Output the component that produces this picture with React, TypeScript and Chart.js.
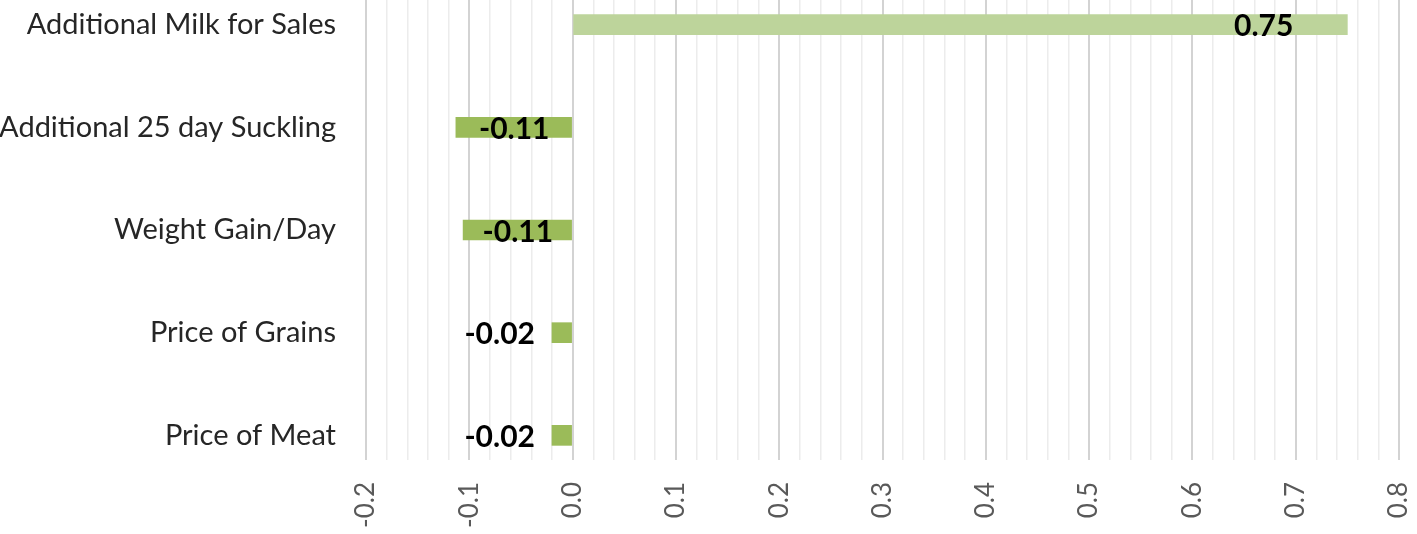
import React, { useEffect, useRef } from "react";
import { Chart, registerables } from "chart.js";

Chart.register(...registerables);

const categories = [
  "Additional Milk for Sales",
  "Additional 25 day Suckling",
  "Weight Gain/Day",
  "Price of Grains",
  "Price of Meat",
];
const values = [0.75, -0.113, -0.106, -0.02, -0.02];
const barColors = ["#bdd49b", "#9bbb59", "#9bbb59", "#9bbb59", "#9bbb59"];
const xMin = -0.2;
const xMax = 0.8;

const FONT = "Lato, 'Open Sans', sans-serif";

const isMajor = (v: number) => Math.abs(v * 10 - Math.round(v * 10)) < 1e-6;

const barLabelPlugin = {
  id: "barLabels",
  afterDatasetsDraw(chart: any) {
    const { ctx } = chart;
    const meta = chart.getDatasetMeta(0);
    const zeroX = chart.scales.x.getPixelForValue(0);
    ctx.save();
    ctx.font = `bold 30px ${FONT}`;
    ctx.fillStyle = "#000000";
    ctx.textBaseline = "middle";
    meta.data.forEach((bar: any, i: number) => {
      const v = values[i];
      const text = v.toFixed(2);
      const w = ctx.measureText(text).width;
      const len = Math.abs(bar.x - zeroX);
      const y = bar.y + 2;
      if (v > 0) {
        ctx.textAlign = "right";
        ctx.fillText(text, bar.x - 54, y);
      } else if (len > w + 20) {
        ctx.textAlign = "center";
        ctx.fillText(text, (bar.x + zeroX) / 2, y);
      } else {
        ctx.textAlign = "right";
        ctx.fillText(text, bar.x - 17, y);
      }
    });
    ctx.restore();
  },
};

export default function App() {
  const canvasRef = useRef<HTMLCanvasElement | null>(null);

  useEffect(() => {
    if (!canvasRef.current) return;
    const chart = new Chart(canvasRef.current, {
      type: "bar",
      data: {
        datasets: [
          {
            data: values.map((v, i) => ({ x: v, y: i })),
            backgroundColor: barColors,
            borderWidth: 0,
            barThickness: 20,
          },
        ],
      },
      options: {
        indexAxis: "y",
        animation: false,
        responsive: true,
        maintainAspectRatio: false,
        layout: { padding: { top: 0, right: 18, left: 0, bottom: 0 } },
        plugins: {
          legend: { display: false },
          tooltip: { enabled: false },
        },
        scales: {
          x: {
            type: "linear",
            min: xMin,
            max: xMax,
            offset: false,
            afterBuildTicks: (scale: any) => {
              const t = [];
              for (let i = 0; i <= 50; i++) t.push({ value: (i - 10) / 50 });
              scale.ticks = t;
            },
            afterFit: (scale: any) => {
              scale.height = 74;
              scale.paddingLeft = 0;
              scale.paddingRight = 0;
              scale.paddingTop = 0;
              scale.paddingBottom = 0;
            },
            ticks: {
              autoSkip: false,
              minRotation: 90,
              maxRotation: 90,
              padding: 22,
              color: "#595959",
              font: { family: FONT, size: 26 },
              callback: (v: any) => {
                const n = Number(v);
                return isMajor(n) ? (Math.round(n * 10) / 10).toFixed(1) : "";
              },
            },
            grid: {
              drawTicks: false,
              offset: false,
              color: (c: any) => (c.tick && isMajor(c.tick.value) ? "#d3d3d3" : "#ececec"),
              lineWidth: (c: any) => (c.tick && isMajor(c.tick.value) ? 2 : 1.5),
            },
            border: { display: false },
          },
          y: {
            type: "linear",
            min: -0.24,
            max: 4.24,
            reverse: true,
            offset: false,
            afterBuildTicks: (scale: any) => {
              scale.ticks = categories.map((_, i) => ({ value: i }));
            },
            afterFit: (scale: any) => {
              scale.width = 366;
              scale.paddingLeft = 0;
              scale.paddingRight = 0;
              scale.paddingTop = 0;
              scale.paddingBottom = 0;
            },
            ticks: {
              autoSkip: false,
              padding: 30,
              color: "#262626",
              font: { family: FONT, size: 29 },
              callback: (v: any) => categories[Math.round(Number(v))] ?? "",
            },
            grid: { display: false, drawTicks: false, offset: false },
            border: { display: false },
          },
        },
      },
      plugins: [barLabelPlugin],
    });
    return () => chart.destroy();
  }, []);

  return (
    <div style={{ position: "fixed", left: 0, top: 0, width: 1417, height: 534, background: "#ffffff" }}>
      <canvas ref={canvasRef} />
    </div>
  );
}
